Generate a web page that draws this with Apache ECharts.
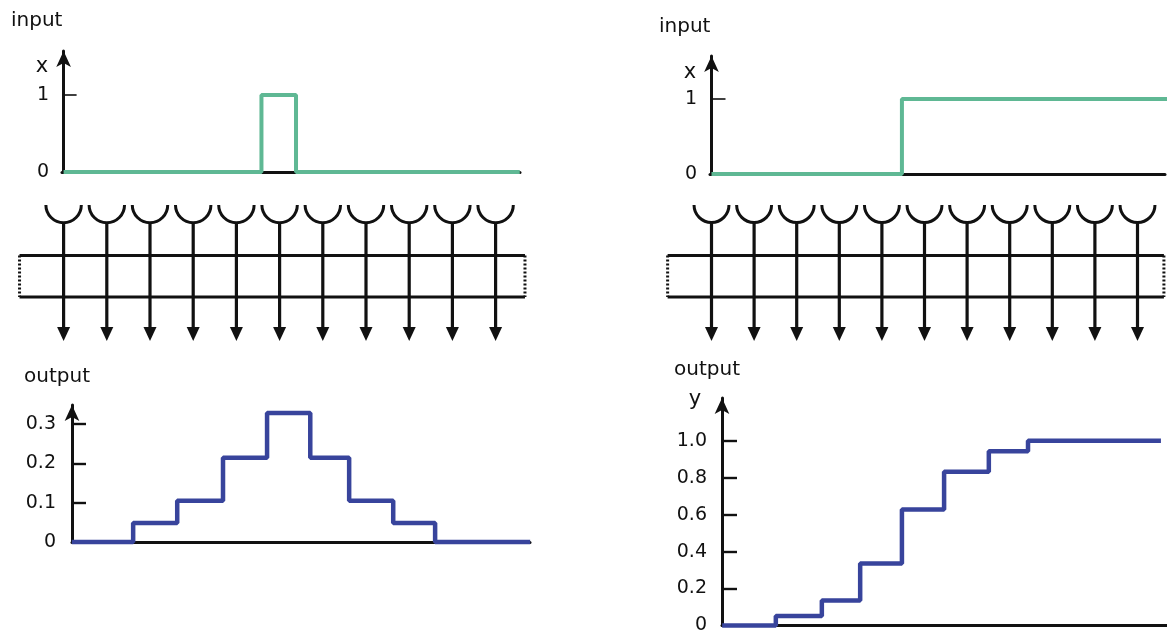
<!DOCTYPE html>
<html><head><meta charset="utf-8">
<script src="https://cdn.jsdelivr.net/npm/echarts@6/dist/echarts.min.js"></script>
<style>html,body{margin:0;padding:0;background:#fff}#c{width:1167px;height:635px}</style>
</head><body><div id="c"></div>
<script>
// ---------------- data (positions in receptor units along the row) ----------------
const receptors = [0, 1, 2, 3, 4, 5, 6, 7, 8, 9, 10];

// left: brief pulse stimulus
const pulseInputX = [0, 4.58, 5.38, 10.56];
const pulseInputY = [0, 1, 0, 0];
const pulseOutputX = [0.19, 1.61, 2.63, 3.69, 4.71, 5.71, 6.61, 7.63, 8.60, 10.8];
const pulseOutputY = [0, 0.048, 0.105, 0.214, 0.328, 0.214, 0.105, 0.048, 0, 0];

// right: step stimulus
const stepInputX = [0, 4.47, 10.7];
const stepInputY = [0, 1, 1];
const stepOutputX = [0.25, 1.51, 2.59, 3.49, 4.47, 5.46, 6.51, 7.43, 10.55];
const stepOutputY = [0, 0.052, 0.136, 0.335, 0.628, 0.833, 0.943, 1.0, 1.0];

// extent of the coupling layer
const layerLeft = [-1.02, 10.68];
const layerRight = [-1.03, 10.62];

// tick labels
const inputTicks = [0, 1];
const pulseOutTicks = [0, 0.1, 0.2, 0.3];
const stepOutTicks = [0, 0.2, 0.4, 0.6, 0.8, 1.0];

// ---------------- layout ----------------
const FONT = 'DejaVu Sans';
const INK = '#111';
const GREEN = '#5fb894';
const BLUE = '#38449c';
const PL = {o: 63.6, s: 43.2};   // left panel: pixel of receptor 0, pixel spacing
const PR = {o: 711.5, s: 42.6};  // right panel
const ARROW = [11, 16];

function mkGrid(pxL, pxR, top, bottom) {
  return {left: pxL, width: pxR - pxL, top: top, height: bottom - top, containLabel: false};
}
function mkX(p, pxL, pxR, gi, showLine) {
  return {
    type: 'value', gridIndex: gi, min: (pxL - p.o) / p.s, max: (pxR - p.o) / p.s,
    axisLine: {show: showLine, onZero: true, lineStyle: {color: INK, width: 3}},
    axisTick: {show: false}, axisLabel: {show: false}, splitLine: {show: false}
  };
}
function yMax(zeroPx, refPx, refVal, topPx) { return refVal * (zeroPx - topPx) / (zeroPx - refPx); }
function mkY(gi, max, ticks, tickVals, tickW, tickLen, fmt, margin) {
  return {
    type: 'value', gridIndex: gi, min: 0, max: max,
    axisLine: {show: true, symbol: ['none', 'arrow'], symbolSize: ARROW, lineStyle: {color: INK, width: 3}},
    axisTick: {show: true, inside: true, length: tickLen, customValues: tickVals, lineStyle: {color: INK, width: tickW}},
    axisLabel: {show: true, customValues: ticks, margin: margin, color: INK, fontFamily: FONT, fontSize: 19, formatter: fmt},
    splitLine: {show: false}
  };
}
const fmtInt = v => String(v);
const fmtDec = v => (v === 0 ? '0' : v.toFixed(1));

// middle diagram (y units = pixels below grid top)
const MID_TOP = 195;
const CUP_Y = 10, RECT_TOP = 60.5, RECT_BOT = 102, TIP_Y = 146;
const CUP_R = 0.41;
const LW = 3.2;

function receptorItem(params, api) {
  const u = api.value(0);
  const c = api.coord([u, CUP_Y]);
  const r = api.size([CUP_R, 0])[0];
  const t = api.coord([u, TIP_Y]);
  const hh = 14, hw = 6.5;
  return {type: 'group', children: [
    {type: 'arc', shape: {cx: c[0], cy: c[1], r: r, startAngle: 0, endAngle: Math.PI, clockwise: true},
     style: {stroke: INK, lineWidth: 3, fill: null}},
    {type: 'line', shape: {x1: c[0], y1: c[1] + r, x2: t[0], y2: t[1] - hh + 2},
     style: {stroke: INK, lineWidth: LW}},
    {type: 'polygon', shape: {points: [[t[0] - hw, t[1] - hh], [t[0] + hw, t[1] - hh], [t[0], t[1]]]},
     style: {fill: INK}}
  ]};
}
function layerItem(params, api) {
  const a = api.coord([api.value(0), RECT_TOP]);
  const b = api.coord([api.value(1), RECT_BOT]);
  const solid = {stroke: INK, lineWidth: LW};
  const dotted = {stroke: INK, lineWidth: 3, lineDash: [2, 2]};
  return {type: 'group', children: [
    {type: 'line', shape: {x1: a[0], y1: a[1], x2: b[0], y2: a[1]}, style: solid},
    {type: 'line', shape: {x1: a[0], y1: b[1], x2: b[0], y2: b[1]}, style: solid},
    {type: 'line', shape: {x1: a[0], y1: a[1], x2: a[0], y2: b[1]}, style: dotted},
    {type: 'line', shape: {x1: b[0], y1: a[1], x2: b[0], y2: b[1]}, style: dotted}
  ]};
}
const zip = (xs, ys) => xs.map((x, i) => [x, ys[i]]);

const option = {
  backgroundColor: '#fff',
  animation: false,
  grid: [
    mkGrid(62, 520, 51, 172),     // 0 left input
    mkGrid(0, 560, MID_TOP, MID_TOP + 150), // 1 left middle
    mkGrid(72, 530, 405, 542),    // 2 left output
    mkGrid(710, 1165, 56, 174),   // 3 right input
    mkGrid(600, 1167, MID_TOP, MID_TOP + 150), // 4 right middle
    mkGrid(722, 1167, 398, 632)   // 5 right output
  ],
  xAxis: [
    mkX(PL, 62, 520, 0, true),
    mkX(PL, 0, 560, 1, false),
    mkX(PL, 72, 530, 2, true),
    mkX(PR, 710, 1165, 3, true),
    mkX(PR, 600, 1167, 4, false),
    mkX(PR, 722, 1167, 5, true)
  ],
  yAxis: [
    mkY(0, yMax(172, 95, 1, 51), inputTicks, [1], 1.6, 13, fmtInt, 13),
    {type: 'value', gridIndex: 1, min: 0, max: 150, inverse: true, show: false},
    mkY(2, yMax(542, 424, 0.3, 405), pulseOutTicks, pulseOutTicks.filter(v => v > 0), 2.4, 14, fmtDec, 16),
    mkY(3, yMax(174, 99, 1, 56), inputTicks, [1], 1.6, 14, fmtInt, 13),
    {type: 'value', gridIndex: 4, min: 0, max: 150, inverse: true, show: false},
    mkY(5, yMax(632, 442, 1.0, 398), stepOutTicks, stepOutTicks.filter(v => v > 0), 2.4, 15, fmtDec, 15)
  ],
  series: [
    {type: 'line', xAxisIndex: 0, yAxisIndex: 0, step: 'end', symbol: 'none', clip: false,
     data: zip(pulseInputX, pulseInputY), lineStyle: {color: GREEN, width: 4}, z: 5},
    {type: 'custom', xAxisIndex: 1, yAxisIndex: 1, clip: false, data: [layerLeft], renderItem: layerItem},
    {type: 'custom', xAxisIndex: 1, yAxisIndex: 1, clip: false, data: receptors.map(v => [v]), renderItem: receptorItem},
    {type: 'line', xAxisIndex: 2, yAxisIndex: 2, step: 'end', symbol: 'none', clip: false,
     data: zip(pulseOutputX, pulseOutputY), lineStyle: {color: BLUE, width: 4.5}, z: 5},
    {type: 'line', xAxisIndex: 3, yAxisIndex: 3, step: 'end', symbol: 'none', clip: false,
     data: zip(stepInputX, stepInputY), lineStyle: {color: GREEN, width: 4}, z: 5},
    {type: 'custom', xAxisIndex: 4, yAxisIndex: 4, clip: false, data: [layerRight], renderItem: layerItem},
    {type: 'custom', xAxisIndex: 4, yAxisIndex: 4, clip: false, data: receptors.map(v => [v]), renderItem: receptorItem},
    {type: 'line', xAxisIndex: 5, yAxisIndex: 5, step: 'end', symbol: 'none', clip: false,
     data: zip(stepOutputX, stepOutputY), lineStyle: {color: BLUE, width: 4.5}, z: 5}
  ],
  graphic: [
    {type: 'text', style: {text: 'input', x: 11, y: 21, textVerticalAlign: 'middle', fontFamily: FONT, fontSize: 20, fill: INK}},
    {type: 'text', style: {text: 'x', x: 42, y: 67, textAlign: 'center', textVerticalAlign: 'middle', fontFamily: FONT, fontSize: 21, fill: INK}},
    {type: 'text', style: {text: 'output', x: 24, y: 377, textVerticalAlign: 'middle', fontFamily: FONT, fontSize: 20, fill: INK}},
    {type: 'text', style: {text: 'input', x: 659, y: 27, textVerticalAlign: 'middle', fontFamily: FONT, fontSize: 20, fill: INK}},
    {type: 'text', style: {text: 'x', x: 690, y: 73, textAlign: 'center', textVerticalAlign: 'middle', fontFamily: FONT, fontSize: 21, fill: INK}},
    {type: 'text', style: {text: 'output', x: 674, y: 370, textVerticalAlign: 'middle', fontFamily: FONT, fontSize: 20, fill: INK}},
    {type: 'text', style: {text: 'y', x: 695, y: 400, textAlign: 'center', textVerticalAlign: 'middle', fontFamily: FONT, fontSize: 21, fill: INK}}
  ]
};
const chart = echarts.init(document.getElementById('c'));
chart.setOption(option);
</script>
</body></html>
